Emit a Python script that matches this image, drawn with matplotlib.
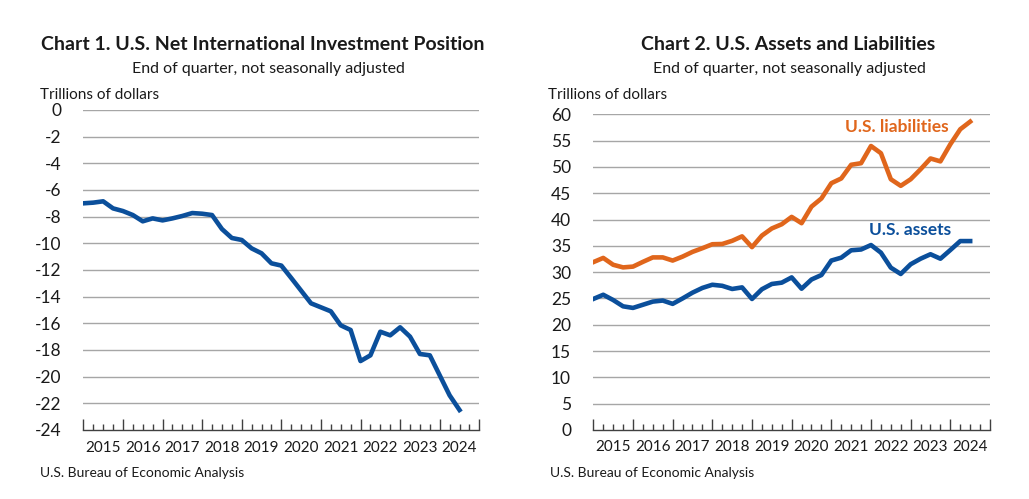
import matplotlib
matplotlib.use("Agg")
import matplotlib.pyplot as plt
from matplotlib.ticker import MultipleLocator, FixedLocator

plt.rcParams['font.family'] = ['Lato', 'DejaVu Sans']
plt.rcParams['axes.unicode_minus'] = False

# quarters 2014Q4 .. 2024Q2
quarters = ['2014Q4'] + [f'{y}Q{q}' for y in range(2015, 2025) for q in range(1, 5)][:38]
years = [str(y) for y in range(2015, 2025)]

niip = [-7.0, -6.95, -6.85, -7.38, -7.58, -7.88, -8.35, -8.13, -8.28, -8.13,
        -7.95, -7.73, -7.78, -7.88, -8.93, -9.6, -9.75, -10.38, -10.75, -11.5,
        -11.67, -12.6, -13.55, -14.5, -14.8, -15.1, -16.15, -16.5, -18.83, -18.4,
        -16.63, -16.9, -16.3, -17.0, -18.3, -18.4, -19.9, -21.4, -22.5]

liabilities = [31.9, 32.7, 31.4, 30.9, 31.05, 31.95, 32.8, 32.8, 32.2, 32.95,
               33.85, 34.55, 35.3, 35.35, 35.95, 36.8, 34.75, 36.95, 38.3, 39.1,
               40.5, 39.3, 42.45, 44.0, 46.9, 47.8, 50.4, 50.7, 53.97, 52.6,
               47.65, 46.4, 47.65, 49.55, 51.6, 51.05, 54.3, 57.15, 58.6]

assets = [24.9, 25.7, 24.7, 23.5, 23.2, 23.8, 24.4, 24.6, 23.97, 25.0,
          26.1, 27.0, 27.6, 27.4, 26.8, 27.1, 24.9, 26.75, 27.75, 28.0,
          29.0, 26.85, 28.6, 29.45, 32.2, 32.75, 34.15, 34.3, 35.15, 33.7,
          30.85, 29.65, 31.5, 32.55, 33.4, 32.55, 34.2, 35.9, 35.9]

blue = '#0B4F9B'
orange = '#E0661C'
grid_col = '#A6A6A6'

fig = plt.figure(figsize=(10.29, 4.99), dpi=100)


def style_axis(ax, ylo, yhi, step):
    x = list(range(len(quarters)))
    ax.set_xlim(0, 40)
    ax.set_ylim(ylo, yhi)
    ax.yaxis.set_major_locator(MultipleLocator(step))
    for v in range(int(ylo) + step, int(yhi) + 1, step):
        ax.axhline(v, color=grid_col, lw=1.0, zorder=0)
    for s in ['top', 'right', 'left']:
        ax.spines[s].set_visible(False)
    ax.spines['bottom'].set_color('#404040')
    ax.spines['bottom'].set_linewidth(1.0)
    ax.tick_params(axis='y', length=0, labelsize=12.5, pad=16, colors='#1a1a1a')
    ax.xaxis.set_major_locator(FixedLocator(range(0, 41, 4)))
    ax.xaxis.set_minor_locator(FixedLocator(range(0, 41)))
    ax.tick_params(axis='x', which='major', direction='in', length=8, width=1.0,
                   color='#404040', labelbottom=False)
    ax.tick_params(axis='x', which='minor', direction='in', length=4, width=1.0,
                   color='#404040')
    for k, yr in enumerate(years):
        ax.text(2 + 4 * k, -0.055, yr, transform=ax.get_xaxis_transform(),
                ha='center', va='center', fontsize=11, color='#1a1a1a')
    return x


ax1 = fig.add_axes([0.081, 0.1383, 0.3848, 0.6413])
x = style_axis(ax1, -24, 0, 2)
ax1.plot(x, niip, color=blue, lw=3.3, zorder=3)

ax2 = fig.add_axes([0.5766, 0.1383, 0.3855, 0.6327])
x = style_axis(ax2, 0, 60, 5)
ax2.plot(x, liabilities, color=orange, lw=3.3, zorder=3)
ax2.plot(x, assets, color=blue, lw=3.3, zorder=3)
ax2.text(30.6, 57.6, 'U.S. liabilities', color=orange, fontsize=12.5,
         fontweight='bold', ha='center', va='center')
ax2.text(31.9, 38.0, 'U.S. assets', color=blue, fontsize=12.5,
         fontweight='bold', ha='center', va='center')

# titles and notes
fig.text(263 / 1029, 1 - 45 / 499, 'Chart 1. U.S. Net International Investment Position',
         ha='center', va='center', fontsize=14, fontweight='bold', color='#1a1a1a')
fig.text(268 / 1029, 1 - 69 / 499, 'End of quarter, not seasonally adjusted',
         ha='center', va='center', fontsize=11.5, color='#1a1a1a')
fig.text(40 / 1029, 1 - 95 / 499, 'Trillions of dollars',
         ha='left', va='center', fontsize=11, color='#1a1a1a')
fig.text(40 / 1029, 1 - 473 / 499, 'U.S. Bureau of Economic Analysis',
         ha='left', va='center', fontsize=10, color='#1a1a1a')

fig.text(788 / 1029, 1 - 45 / 499, 'Chart 2. U.S. Assets and Liabilities',
         ha='center', va='center', fontsize=14, fontweight='bold', color='#1a1a1a')
fig.text(789 / 1029, 1 - 69 / 499, 'End of quarter, not seasonally adjusted',
         ha='center', va='center', fontsize=11.5, color='#1a1a1a')
fig.text(548 / 1029, 1 - 95 / 499, 'Trillions of dollars',
         ha='left', va='center', fontsize=11, color='#1a1a1a')
fig.text(550 / 1029, 1 - 473 / 499, 'U.S. Bureau of Economic Analysis',
         ha='left', va='center', fontsize=10, color='#1a1a1a')

fig.savefig('out.png', dpi=100)
